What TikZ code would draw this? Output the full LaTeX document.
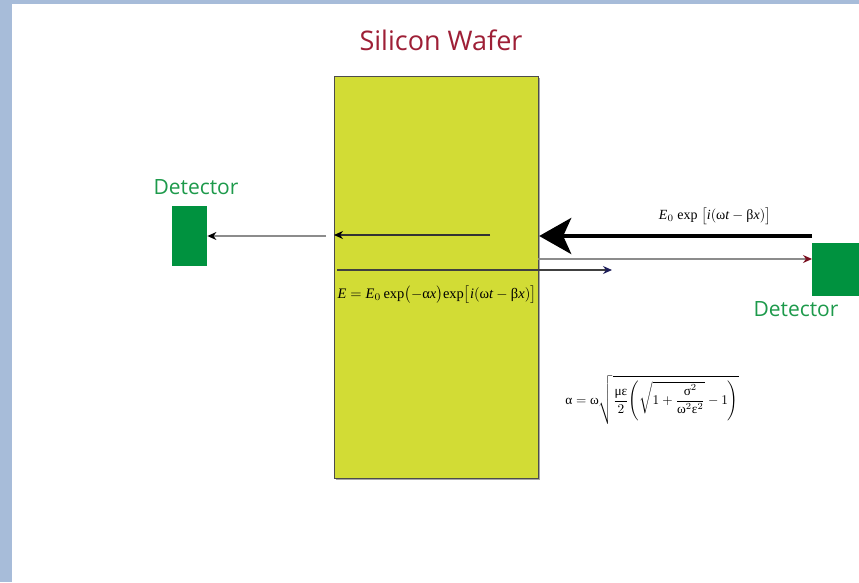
\documentclass[tikz,border=0pt]{standalone}
\usepackage{amsmath}
\usepackage{fontspec}
\setmainfont{Liberation Serif}
\newfontfamily\labelfont{Open Sans}
\usetikzlibrary{arrows.meta}
\newcommand\gr[1]{\text{\upshape #1}}
\newcommand\eqbox[2][1.4]{\scalebox{#1}{#2}}
\definecolor{bordblue}{HTML}{A7BCD9}
\definecolor{waferfill}{HTML}{D2DC35}
\definecolor{titlered}{HTML}{9E1F36}
\definecolor{detgreen}{HTML}{00923F}
\definecolor{dettext}{HTML}{1D9A4B}
\definecolor{tipred}{HTML}{7A1020}
\definecolor{tipnavy}{HTML}{1E1E5A}
\tikzset{
  x=1pt,y=-1pt,
  detbox/.style={fill=detgreen,draw=none,minimum width=#1,inner sep=0pt},
  dettitle/.style={font=\labelfont\fontsize{21}{21}\selectfont,text=dettext,inner sep=0pt},
  eqlabel/.style={inner sep=0pt}
}
\begin{document}
\begin{tikzpicture}
\useasboundingbox (0,0) rectangle (859,582);
\fill[white] (0,0) rectangle (859,582);
\fill[bordblue] (0,0) rectangle (859,4);
\fill[bordblue] (0,0) rectangle (12,582);
% wafer
\fill[black!35] (335.5,77.5) rectangle (539.5,479.5);
\node[draw=black!70,line width=1.2pt,fill=waferfill,minimum width=204pt,minimum height=402pt,inner sep=0pt,anchor=north west] (wafer) at (334,76) {};
\node[font=\labelfont\fontsize{27}{27}\selectfont,text=titlered,inner sep=0pt] (title) at (441,40) {Silicon Wafer};
% detectors
\node[detbox=35pt,minimum height=60pt,anchor=north west] (detL) at (172,206) {};
\node[detbox=47pt,minimum height=53pt,anchor=north west] (detR) at (812,243) {};
\node[dettitle] (detLt) at (196,187) {Detector};
\node[dettitle] (detRt) at (796,309) {Detector};
% coordinates
\coordinate (inS) at (490,235);
\coordinate (outL) at (326,236);
\coordinate (srcR) at (812,236);
\coordinate (refS) at (538,259);
\coordinate (trS) at (337,270);
\coordinate (trE) at (612,270);
% arrows
\draw[line width=4pt,-{Stealth[length=32pt,width=36pt,inset=8pt]}] (srcR) -- (wafer.east |- srcR);
\draw[line width=1.2pt,black!80,-{Stealth[length=9pt,width=8pt,black]}] (inS) -- (wafer.west |- inS);
\draw[line width=1.2pt,black!45,-{Stealth[length=9pt,width=8pt,black]}] (outL) -- (detL.east |- outL);
\draw[line width=1.2pt,black!45,-{Stealth[length=9pt,width=8pt,tipred]}] (refS) -- (detR.west |- refS);
\draw[line width=1.2pt,black!75,-{Stealth[length=9pt,width=8pt,tipnavy]}] (trS) -- (trE);
% labels
\node[eqlabel] (lab1) at (715,216) {\eqbox{$\mathit{E}_{0}\ \mathrm{exp}\ \bigl[\mathit{i}(\gr{ω}\mathit{t}-\gr{β}\mathit{x})\bigr]$}};
\node[eqlabel] (lab2) at (437,295) {\eqbox[1.45]{$\mathit{E}=\mathit{E}_{0}\,\mathrm{exp}\bigl(-\gr{α}\mathit{x}\bigr)\mathrm{exp}\bigl[\mathit{i}(\gr{ω}\mathit{t}-\gr{β}\mathit{x})\bigr]$}};
\node[eqlabel] (lab3) at (652,400) {\eqbox[1.33]{$\gr{α}=\gr{ω}\sqrt{\dfrac{\gr{με}}{2}\!\left(\sqrt{1+\dfrac{\gr{σ}^{2}}{\gr{ω}^{2}\gr{ε}^{2}}}-1\right)}$}};
\end{tikzpicture}
\end{document}
